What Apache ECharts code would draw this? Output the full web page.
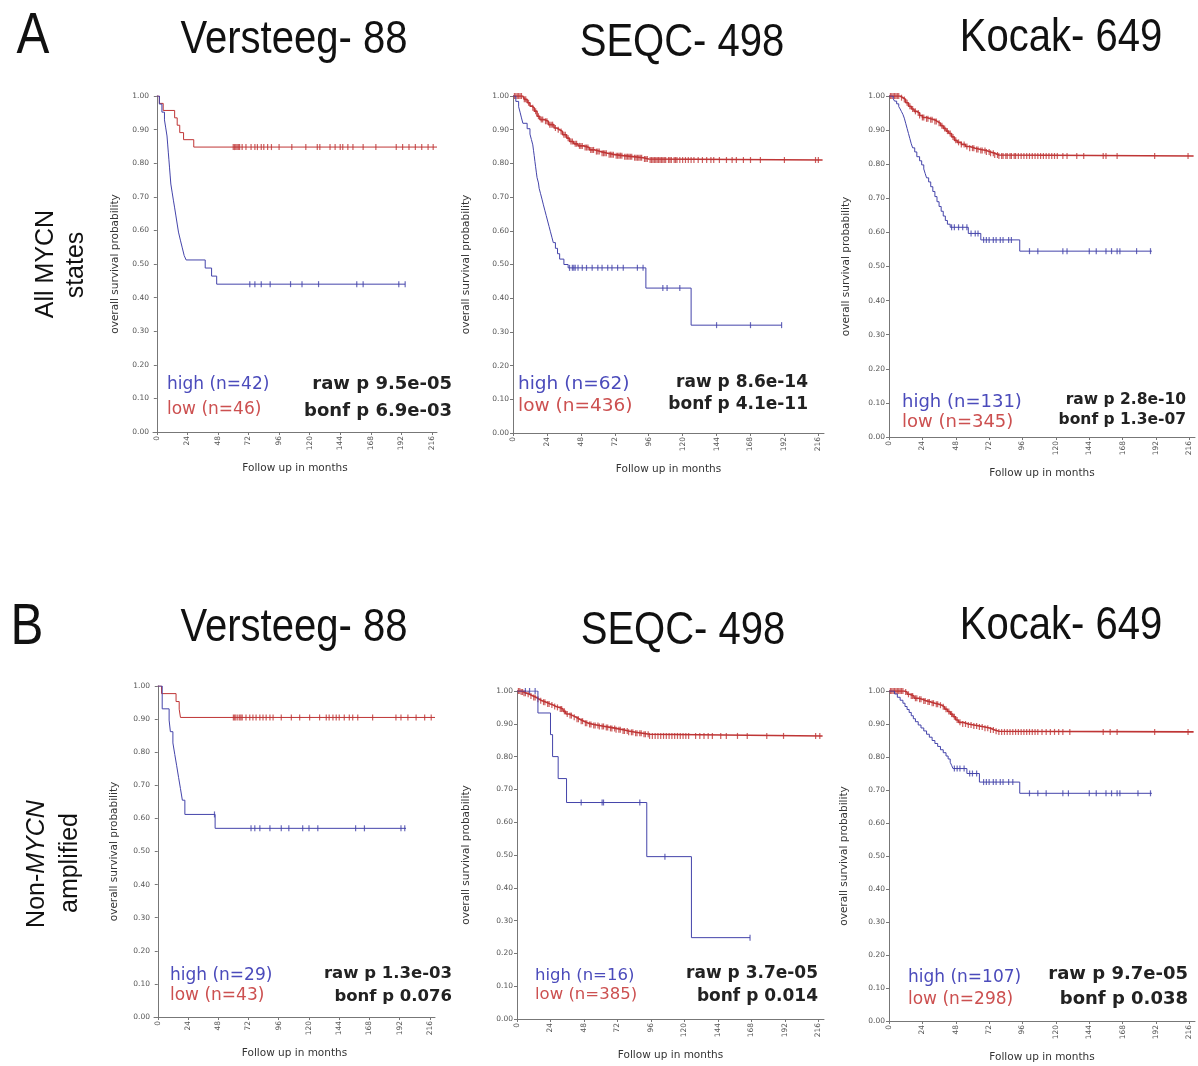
<!DOCTYPE html>
<html lang="en">
<head>
<meta charset="UTF-8">
<title>MYCN survival curves</title>
<style>
    html, body { margin: 0; padding: 0; background: #fff; }
    #main { width: 1198px; height: 1066px; }
</style>
</head>
<body>
<div id="main"></div>
<script src="https://cdn.jsdelivr.net/npm/echarts@6.0.0/dist/echarts.min.js"></script>
<script>
    // ---- data ----
    var monthTicks = [0, 24, 48, 72, 96, 120, 144, 168, 192, 216];
    var titles = ['Versteeg- 88', 'SEQC- 498', 'Kocak- 649', 'Versteeg- 88', 'SEQC- 498', 'Kocak- 649'];
    var nHigh = [42, 62, 131, 29, 16, 107];
    var nLow = [46, 436, 345, 43, 385, 298];
    var rawP = ['9.5e-05', '8.6e-14', '2.8e-10', '1.3e-03', '3.7e-05', '9.7e-05'];
    var bonfP = ['6.9e-03', '4.1e-11', '1.3e-07', '0.076', '0.014', '0.038'];

    // A: all MYCN states
    var a1High = [[0,1],[2,0.976],[4,0.952],[6,0.929],[7,0.905],[8,0.881],[8.5,0.857],[9,0.833],[9.5,0.81],[10,0.786],[10.5,0.762],[11,0.738],[12,0.714],[13,0.69],[14,0.667],[15,0.643],[16,0.619],[17,0.595],[18.5,0.571],[20,0.548],[21.5,0.525],[23,0.512],[38,0.488],[43,0.464],[47,0.44],[195,0.44]];
    var a1HighCens = [73,77,82,89,105,114,127,157,162,190,195];
    var a1Low = [[0,1],[2,0.978],[5,0.957],[14,0.935],[16,0.913],[18,0.891],[21,0.87],[29,0.848],[220,0.848]];
    var a1LowCens = [60,61,62,63,64,65,67,70,74,77,79,82,84,87,90,96,106,117,126,128,136,140,144,146,150,154,162,172,188,193,198,203,208,213,217];

    var a2High = [[0,1],[2,0.984],[4,0.968],[5,0.952],[6,0.935],[7,0.919],[10,0.903],[12,0.887],[13,0.871],[14,0.855],[14.5,0.839],[15,0.823],[15.5,0.806],[16,0.79],[16.5,0.774],[17,0.758],[18,0.742],[18.5,0.726],[19.5,0.71],[20.5,0.694],[21.5,0.677],[22.5,0.661],[23.5,0.645],[24.5,0.629],[25.5,0.613],[26.5,0.597],[27.5,0.581],[28.5,0.565],[30,0.548],[31.5,0.532],[33,0.516],[36,0.5],[39,0.49],[94,0.43],[126,0.32],[190,0.32]];
    var a2HighCens = [40,42,43,44,46,49,52,56,60,63,67,70,74,78,88,92,106,109,118,144,168,190];
    var a2Low = [[0,1],[7,0.995],[8,0.99],[10,0.98],[12,0.97],[13.5,0.965],[15,0.955],[17,0.94],[19,0.93],[22,0.925],[25,0.915],[29,0.905],[31,0.9],[33,0.895],[35,0.885],[38,0.875],[40,0.865],[43,0.858],[46,0.852],[50,0.847],[54,0.84],[58,0.835],[62,0.83],[67,0.826],[72,0.823],[78,0.82],[85,0.817],[92,0.813],[96,0.81],[219,0.81]];
    var a2LowCens = [1,2,3,4,5,6,8,9,11,14,16,18,20,21,23,24,26,27,28,30,32,34,36,37,39,41,42,44,45,47,48,49,51,52,53,55,56,57,59,60,61,63,64,65,66,68,69,70,71,73,74,75,76,77,79,80,81,82,83,84,86,87,88,89,90,91,93,94,95,97,98,99,100,101,102,103,104,105,106,107,108,110,111,112,114,115,116,118,120,122,124,126,128,131,134,137,140,142,146,151,155,158,163,168,175,192,214,216];

    var a3High = [[0,1],[3,0.992],[4,0.985],[5.5,0.977],[7,0.969],[8,0.962],[9,0.954],[10,0.946],[11,0.935],[12,0.92],[13,0.905],[14,0.89],[15,0.875],[16,0.86],[17,0.848],[18.5,0.836],[20,0.822],[22,0.81],[23.5,0.798],[25,0.786],[26,0.773],[27,0.76],[28.5,0.748],[30,0.734],[31.5,0.72],[33,0.705],[34.5,0.69],[36,0.676],[37.5,0.662],[39,0.648],[40.5,0.635],[42,0.624],[44,0.615],[57,0.597],[66,0.578],[94,0.545],[189,0.545]];
    var a3HighCens = [45,47,50,53,56,59,62,64,68,70,72,75,77,80,82,86,88,101,107,125,128,144,149,156,160,164,166,178,188];
    var a3Low = [[0,1],[8,0.995],[10,0.99],[12,0.98],[14,0.97],[16,0.962],[18,0.955],[20,0.95],[22,0.943],[24,0.937],[27,0.933],[30,0.93],[33,0.925],[35,0.92],[37,0.913],[39,0.905],[41,0.897],[43,0.89],[45,0.88],[47,0.87],[49,0.864],[52,0.858],[55,0.852],[58,0.847],[62,0.843],[66,0.84],[70,0.836],[73,0.832],[76,0.827],[79,0.824],[219,0.824]];
    var a3LowCens = [1,2,3,4,5,6,7,9,11,13,15,17,19,21,22,24,25,27,28,30,31,33,34,36,38,40,42,44,46,48,50,52,54,56,58,60,61,63,64,66,67,69,70,72,73,75,76,78,79,81,82,84,85,87,88,90,91,93,95,97,99,101,103,105,107,109,111,113,115,117,119,121,125,128,135,140,154,156,164,191,215];

    // B: non-MYCN amplified
    var b1High = [[0,1],[3.5,0.931],[9,0.897],[10,0.862],[12,0.828],[13.5,0.793],[15,0.759],[16.5,0.724],[18,0.69],[19.5,0.655],[21.5,0.612],[45.5,0.57],[197,0.57]];
    var b1HighCens = [45,74,77,81,89,98,104,115,120,127,157,164,193,196];
    var b1Low = [[0,1],[3,0.977],[14.5,0.953],[17,0.93],[18,0.905],[220,0.905]];
    var b1LowCens = [60,61,62,63.5,65,66,67,70,73,75.5,78,81,83.5,86,89,91.5,98,106,112.6,120.5,128.4,133.7,136,139,141.6,144,148,152,154.7,158.7,170.5,189,193,198.5,205,211.8,217];

    var b2High = [[0,1],[15,0.933],[24,0.867],[25.5,0.8],[29.5,0.733],[35.5,0.66],[93,0.495],[125,0.248],[167,0.248]];
    var b2HighCens = [6,9,13,46,61,62,88,106,167];
    var b2Low = [[0,1],[3,0.997],[5,0.993],[7,0.99],[9,0.985],[11.5,0.98],[14,0.975],[16,0.97],[18,0.966],[21,0.96],[24,0.957],[26,0.953],[28,0.95],[30.5,0.945],[33,0.938],[35,0.93],[37.5,0.925],[40,0.92],[42.5,0.914],[45,0.908],[48,0.902],[51,0.898],[55,0.895],[59,0.892],[63,0.889],[67,0.886],[71,0.882],[76,0.878],[80,0.874],[85,0.871],[90,0.868],[95,0.863],[219,0.863]];
    var b2LowCens = [1,2,3,4,5,6,8,10,12,13,15,17,19,20,22,23,25,27,29,31,32,34,36,38,39,41,43,44,46,47,49,50,52,53,55,56,58,59,61,62,64,65,67,68,70,71,73,74,76,77,79,80,82,83,85,86,88,89,91,92,94,95,97,99,101,103,105,107,109,111,113,115,117,119,121,123,128,131,134,137,140,146,150,158,165,179,191,214,217];

    var b3High = [[0,1],[4,0.991],[6,0.981],[8,0.972],[10,0.963],[11.5,0.953],[13,0.944],[14.5,0.935],[16,0.925],[17.5,0.916],[19,0.907],[21,0.897],[23,0.888],[25,0.879],[27,0.869],[29,0.86],[31,0.85],[33,0.841],[35,0.832],[37,0.822],[39,0.813],[41,0.803],[42.5,0.794],[44,0.784],[45,0.775],[46,0.765],[56,0.75],[65,0.724],[94,0.69],[189,0.69]];
    var b3HighCens = [47,49,51,54,58,60,63,68,70,72,75,77,80,82,86,89,101,107,113,125,129,144,149,156,160,164,166,179,188];
    var b3Low = [[0,1],[11,0.997],[13,0.99],[15,0.985],[18,0.978],[21,0.975],[24,0.97],[27,0.967],[30,0.963],[33,0.96],[36,0.957],[38,0.952],[40,0.945],[42,0.938],[44,0.93],[46,0.922],[48,0.912],[50,0.905],[53,0.9],[57,0.897],[61,0.894],[65,0.891],[69,0.887],[73,0.882],[76,0.878],[79,0.876],[219,0.876]];
    var b3LowCens = [1,2,3,4,5,6,7,8,9,10,12,14,16,17,19,20,22,23,25,26,28,29,31,32,34,35,37,39,41,43,45,47,49,51,53,55,57,59,61,63,65,67,69,71,73,75,77,79,81,83,85,87,89,91,93,95,97,99,101,103,105,107,110,113,116,119,122,125,130,154,159,164,191,215];

    var highCurves = [a1High, a2High, a3High, b1High, b2High, b3High];
    var highCens = [a1HighCens, a2HighCens, a3HighCens, b1HighCens, b2HighCens, b3HighCens];
    var lowCurves = [a1Low, a2Low, a3Low, b1Low, b2Low, b3Low];
    var lowCens = [a1LowCens, a2LowCens, a3LowCens, b1LowCens, b2LowCens, b3LowCens];

    // ---- layout ----
    var boxes = [
        {left: 153, top: 96, width: 284, height: 336, xMin: -3, yGap: 32, redWidth: 1},
        {left: 513, top: 96, width: 311, height: 337, xMin: 0, yGap: 41, redWidth: 1.6},
        {left: 889, top: 96, width: 306, height: 341, xMin: 0, yGap: 37, redWidth: 1.6},
        {left: 154, top: 686, width: 281, height: 331, xMin: -3, yGap: 34, redWidth: 1},
        {left: 517, top: 691, width: 307, height: 328, xMin: 0, yGap: 45, redWidth: 1.6},
        {left: 889, top: 691, width: 306, height: 330, xMin: 0, yGap: 39, redWidth: 1.6}
    ];
    var notes = [
        {legX: 167, hY: 385, lY: 410, legSize: 17, pX: 452, rY: 384, bY: 411, pSize: 18},
        {legX: 518, hY: 384, lY: 406, legSize: 18.5, pX: 808, rY: 383, bY: 405, pSize: 17},
        {legX: 902, hY: 402, lY: 422, legSize: 18, pX: 1186, rY: 400, bY: 420, pSize: 15.5},
        {legX: 170, hY: 976, lY: 996, legSize: 17, pX: 452, rY: 974, bY: 997, pSize: 16.5},
        {legX: 535, hY: 976, lY: 995, legSize: 16.5, pX: 818, rY: 974, bY: 997, pSize: 17},
        {legX: 908, hY: 978, lY: 1000, legSize: 17, pX: 1188, rY: 974, bY: 999, pSize: 18}
    ];
    var titlePos = [[294, 40], [682, 43], [1061, 38], [294, 628], [683, 631], [1061, 626]];

    var blue = '#4444aa', red = '#bf3535';
    var blueText = '#4b4bbb', redText = '#cc5050';
    var small = 'DejaVu Sans';

    // value of a step curve at time t (last drop at or before t)
    function stepAt(curve, t) {
        var s = curve[0][1];
        for (var i = 0; i < curve.length; i++) {
            if (curve[i][0] <= t) s = curve[i][1];
        }
        return s;
    }

    var grids = [], xAxes = [], yAxes = [], series = [], graphics = [];

    boxes.forEach(function (b, i) {
        grids.push({left: b.left, top: b.top, width: b.width, height: b.height, outerBoundsMode: 'none'});
        xAxes.push({
            type: 'value', gridIndex: i, min: b.xMin, max: 220,
            name: 'Follow up in months', nameLocation: 'middle', nameGap: 31,
            nameTextStyle: {fontFamily: small, fontSize: 10.5, color: '#333'},
            splitLine: {show: false},
            axisLine: {lineStyle: {color: '#777', width: 1}},
            axisTick: {customValues: monthTicks, length: 3, lineStyle: {color: '#777'}},
            axisLabel: {customValues: monthTicks, rotate: 90, margin: 4, fontFamily: small, fontSize: 7.5, color: '#555'}
        });
        yAxes.push({
            type: 'value', gridIndex: i, min: 0, max: 1, interval: 0.1,
            name: 'overall survival probability', nameLocation: 'middle', nameGap: b.yGap,
            nameTextStyle: {fontFamily: small, fontSize: 10.5, color: '#333'},
            splitLine: {show: false},
            axisLine: {show: true, lineStyle: {color: '#777', width: 1}},
            axisTick: {show: true, length: 3, lineStyle: {color: '#777'}},
            axisLabel: {margin: 4, fontFamily: small, fontSize: 7.5, color: '#555',
                formatter: function (v) { return v.toFixed(2); }}
        });

        [[lowCurves[i], lowCens[i], red, b.redWidth], [highCurves[i], highCens[i], blue, 1]].forEach(function (g) {
            var curve = g[0];
            series.push({
                type: 'line', step: 'end', xAxisIndex: i, yAxisIndex: i,
                showSymbol: false, symbol: 'none', silent: true, animation: false,
                lineStyle: {color: g[2], width: g[3]},
                data: curve
            });
            series.push({
                type: 'scatter', xAxisIndex: i, yAxisIndex: i, silent: true, animation: false,
                symbol: 'rect', symbolSize: [1.2, 6],
                itemStyle: {color: g[2]},
                data: g[1].map(function (t) { return [t, stepAt(curve, t)]; })
            });
        });

        var n = notes[i];
        graphics.push(
            {type: 'text', x: n.legX, y: n.hY, style: {text: 'high (n=' + nHigh[i] + ')', fill: blueText,
                fontFamily: small, fontSize: n.legSize, textAlign: 'left', textVerticalAlign: 'middle'}},
            {type: 'text', x: n.legX, y: n.lY, style: {text: 'low (n=' + nLow[i] + ')', fill: redText,
                fontFamily: small, fontSize: n.legSize, textAlign: 'left', textVerticalAlign: 'middle'}},
            {type: 'text', x: n.pX, y: n.rY, style: {text: 'raw p ' + rawP[i], fill: '#222', fontWeight: 'bold',
                fontFamily: small, fontSize: n.pSize, textAlign: 'right', textVerticalAlign: 'middle'}},
            {type: 'text', x: n.pX, y: n.bY, style: {text: 'bonf p ' + bonfP[i], fill: '#222', fontWeight: 'bold',
                fontFamily: small, fontSize: n.pSize, textAlign: 'right', textVerticalAlign: 'middle'}},
            {type: 'text', x: titlePos[i][0], y: titlePos[i][1], scaleX: 0.87, style: {text: titles[i], fill: '#111',
                fontFamily: 'Liberation Sans', fontSize: 46, textAlign: 'center', textVerticalAlign: 'middle'}}
        );
    });

    // panel letters and row labels
    var rowFont = {fontFamily: 'Liberation Sans', fontSize: 25, fill: '#111', textAlign: 'center', textVerticalAlign: 'middle'};
    graphics.push(
        {type: 'text', x: 33, y: 37, scaleX: 0.85, style: {text: 'A', fill: '#111', fontFamily: 'Liberation Sans', fontSize: 58, textAlign: 'center', textVerticalAlign: 'middle'}},
        {type: 'text', x: 27, y: 628, scaleX: 0.85, style: {text: 'B', fill: '#111', fontFamily: 'Liberation Sans', fontSize: 58, textAlign: 'center', textVerticalAlign: 'middle'}},
        {type: 'text', x: 46, y: 264, rotation: Math.PI / 2, style: Object.assign({text: 'All MYCN'}, rowFont)},
        {type: 'text', x: 76, y: 265, rotation: Math.PI / 2, style: Object.assign({text: 'states'}, rowFont)},
        {type: 'text', x: 37, y: 864, rotation: Math.PI / 2, style: Object.assign({text: 'Non-{i|MYCN}', rich: {i: {fontStyle: 'italic', fontFamily: 'Liberation Sans', fontSize: 25, fill: '#111'}}}, rowFont)},
        {type: 'text', x: 70, y: 863, rotation: Math.PI / 2, style: Object.assign({text: 'amplified'}, rowFont)}
    );

    var chart = echarts.init(document.getElementById('main'), null, {renderer: 'canvas'});
    chart.setOption({
        animation: false,
        backgroundColor: '#fff',
        grid: grids,
        xAxis: xAxes,
        yAxis: yAxes,
        series: series,
        graphic: graphics
    });
</script>
</body>
</html>
